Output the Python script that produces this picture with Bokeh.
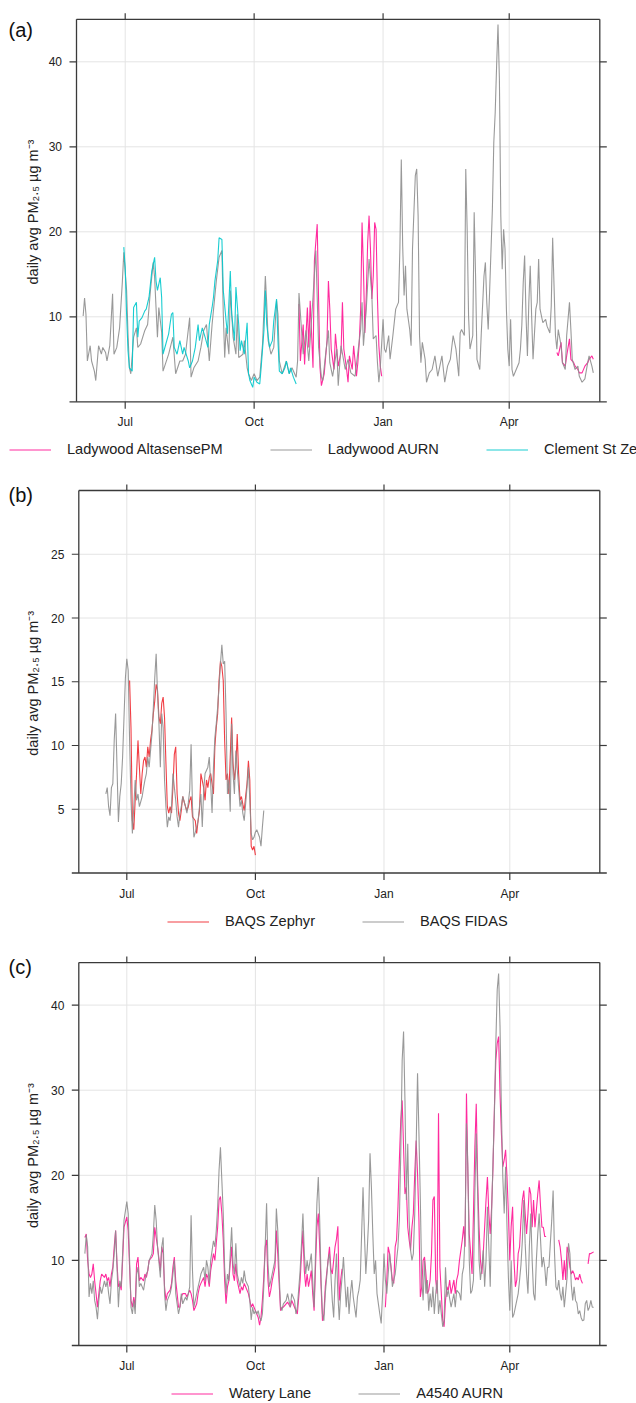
import numpy as np
import pandas as pd
from bokeh.plotting import figure
from bokeh.layouts import column
from bokeh.core.properties import value
from bokeh.models import Range1d, Legend, LegendItem, ColumnDataSource
from bokeh.embed import file_html
from bokeh.resources import INLINE

NAN = float("nan")
START = "2020-06-01"          # day 0 of every series below
X_TICK_DATES = ["2020-07-01", "2020-10-01", "2021-01-01", "2021-04-01"]
X_TICK_LABELS = ["Jul", "Oct", "Jan", "Apr"]
Y_TICKS_A = [10, 20, 30, 40]
Y_TICKS_B = [5, 10, 15, 20, 25]
Y_TICKS_C = [10, 20, 30, 40]
Y_LABEL = "daily avg PM\u2082.\u2085 \u00b5g m\u207b\u00b3"

# ---------------- panel (a) : (day, daily mean) ----------------
A_ALTASENSE = [(154,11.5),(155,4.8),(157,9.1),(158,4.4),(160,11.1),(161,6.4),(162,11.9),(164,4.0),(165,16.6),(167,20.9),
 (168,11.9),(169,4.0),(170,1.9),(172,3.3),(174,7.2),(175,14.2),(176,10.9),(177,6.2),(179,3.8),(180,8.0),
 (182,4.2),(184,5.8),(185,11.7),(186,6.2),(188,3.8),(189,2.3),(190,5.4),(192,3.8),(193,6.6),(195,3.0),
 (196,4.6),(197,7.0),(198,10.9),(199,21.1),(200,15.6),(201,8.1),(202,12.5),(203,18.7),(204,21.9),(205,18.0),
 (206,12.1),(207,14.8),(208,21.1),(209,20.3),(210,12.1),(211,6.6),(212,4.2),(213,3.0),(260,NAN),
 (338,5.8),(339,5.4),(341,7.0),(342,4.6),(344,4.2),(345,5.4),(347,7.4),(348,5.0),(350,4.6),(351,4.2),
 (353,3.8),(354,3.4),(356,3.4),(358,4.2),(360,4.6),(361,5.0),(363,5.4),(364,5.0)]

A_AURN = [(0,10.1),(1,12.2),(2,10.3),(3,4.8),(5,6.6),(6,4.8),(8,3.6),(9,2.5),(11,6.6),(13,5.6),(14,6.4),(16,5.8),
 (17,4.8),(19,6.6),(21,12.7),(22,5.6),(24,6.4),(26,8.7),(28,14.2),(29,17.6),(31,13.1),(32,8.0),(33,4.0),(34,3.3),
 (36,7.6),(38,8.7),(39,6.4),(41,6.8),(44,8.4),(46,9.1),(48,13.1),(50,16.4),(51,14.6),(53,7.6),(54,11.1),(56,8.2),
 (57,3.6),(59,4.6),(61,5.6),(64,7.6),(66,3.3),(69,4.8),(71,4.8),(73,5.6),(76,9.9),(77,2.9),(79,4.0),(82,4.8),
 (84,6.4),(86,8.4),(88,9.1),(90,4.8),(92,9.1),(95,14.2),(97,17.0),(99,17.8),(100,10.3),(101,5.2),(102,8.7),
 (104,5.6),(105,13.1),(107,7.6),(109,5.6),(110,10.3),(111,5.2),(114,5.6),(115,7.2),(117,4.0),(118,3.3),(120,2.5),
 (122,3.3),(124,2.5),(126,2.9),(128,6.8),(130,14.8),(131,11.5),(132,7.2),(134,5.6),(136,6.4),(138,11.9),(139,10.3),
 (140,4.8),(142,3.3),(145,4.8),(147,3.3),(149,4.0),(152,2.9),(153,4.8),(154,12.8),(157,5.6),(159,8.4),(161,4.8),
 (164,12.3),(166,17.8),(167,12.3),(168,6.4),(170,2.9),(171,2.5),(173,5.6),(175,8.4),(176,4.6),(178,3.0),(181,6.2),
 (182,1.9),(184,6.6),(187,3.8),(189,5.0),(191,3.4),(194,3.0),(196,5.8),(198,8.5),(199,11.7),(200,6.6),(202,10.9),
 (204,16.8),(206,12.5),(207,7.4),(209,7.8),(210,4.6),(211,2.3),(212,4.0),(214,9.7),(215,6.2),(216,5.8),(218,7.8),
 (219,5.0),(221,7.8),(223,10.9),(225,11.7),(226,18.0),(227,28.5),(228,18.3),(229,12.5),(230,16.0),(231,10.9),
 (233,8.5),(234,6.6),(235,18.0),(237,26.6),(238,27.4),(239,21.9),(240,7.8),(241,4.6),(242,7.0),(244,5.0),(245,2.3),
 (247,3.4),(249,3.8),(251,5.4),(253,3.0),(256,5.4),(258,2.3),(260,4.2),(262,5.0),(264,7.8),(266,6.2),(268,3.0),
 (269,8.1),(270,8.5),(272,7.8),(273,27.4),(274,20.3),(275,10.1),(276,6.2),(278,7.8),(279,22.3),(280,14.8),(281,5.0),
 (283,3.8),(284,7.8),(286,14.8),(287,16.4),(288,11.7),(289,8.5),(290,12.9),(292,22.7),(293,30.5),(294,34.0),
 (295,39.5),(296,44.4),(297,38.0),(298,21.9),(299,15.6),(300,20.3),(301,18.0),(302,10.9),(303,6.2),(304,4.2),
 (305,9.7),(306,3.8),(307,3.0),(309,3.8),(311,4.6),(312,6.2),(313,9.0),(314,14.0),(315,17.2),(316,10.1),(317,5.4),
 (318,11.7),(319,16.0),(320,10.1),(321,5.0),(323,10.9),(324,11.7),(325,16.8),(326,10.9),(328,9.3),(330,9.7),
 (331,8.9),(333,8.1),(334,11.3),(335,19.3),(337,7.8),(338,6.2),(339,8.5),(341,6.6),(342,4.6),(344,3.8),(345,7.8),
 (347,11.7),(348,8.5),(349,5.0),(351,3.8),(353,4.2),(354,3.0),(356,2.3),(358,2.7),(360,4.6),(361,5.4),(363,4.2),
 (364,3.4)]

A_CLEMENT = [(29,18.2),(30,15.8),(31,10.3),(32,6.0),(33,4.0),(35,3.6),(36,11.1),(38,11.7),(39,7.6),(40,9.5),
 (42,9.9),(44,10.7),(45,10.9),(47,12.3),(49,15.4),(51,17.0),(52,14.2),(53,13.1),(55,14.6),(56,12.3),(57,5.6),
 (59,6.8),(61,8.0),(63,10.3),(64,10.5),(65,6.4),(67,5.6),(69,7.2),(71,5.6),(72,6.4),(75,4.8),(76,4.0),(78,4.8),
 (80,6.4),(82,9.1),(83,7.2),(85,8.7),(87,7.6),(89,6.4),(90,9.1),(92,11.1),(93,12.3),(94,14.2),(96,16.6),(97,19.3),
 (99,19.1),(100,13.1),(102,9.5),(103,8.0),(105,15.4),(106,10.3),(108,7.2),(109,13.5),(111,9.1),(112,6.0),(113,7.2),
 (115,5.6),(117,9.3),(118,3.3),(119,2.5),(121,1.7),(122,2.9),(124,2.3),(126,2.1),(127,4.0),(129,8.4),(130,13.1),
 (131,9.1),(133,6.4),(135,7.2),(136,9.5),(138,12.1),(139,7.2),(140,3.6),(142,3.3),(144,4.0),(145,4.8),(147,3.3),
 (148,4.0),(150,2.9),(152,2.1)]

# ---------------- panel (b) ----------------
B_ZEPHYR = [(32,15.1),(33,11.4),(34,4.1),(35,3.4),(36,5.7),(37,7.8),(38,10.4),(39,8.3),(40,6.2),(41,7.8),(42,8.8),
 (43,9.1),(44,8.3),(45,9.9),(46,9.1),(47,10.4),(48,11.2),(49,12.5),(50,13.5),(51,14.8),(52,14.3),(53,12.2),(54,11.7),
 (55,13.3),(56,13.8),(57,12.2),(58,8.6),(59,5.2),(60,4.7),(61,5.2),(62,4.7),(63,6.7),(64,9.3),(65,9.9),(66,6.2),
 (67,4.7),(68,4.1),(69,4.9),(70,6.0),(72,5.2),(73,4.9),(74,5.2),(75,5.7),(76,6.0),(77,4.4),(79,4.1),(80,3.1),
 (81,4.1),(82,4.9),(83,7.8),(85,6.7),(86,5.7),(87,7.3),(88,6.7),(89,7.5),(90,7.8),(92,6.2),(93,9.9),(94,11.4),
 (95,12.5),(96,15.1),(97,16.6),(98,16.2),(99,15.1),(100,10.4),(101,7.3),(102,7.8),(103,6.2),(104,9.1),(105,12.2),
 (106,8.6),(107,7.3),(108,8.3),(109,10.9),(110,7.8),(111,5.7),(112,6.0),(113,5.4),(114,4.9),(115,6.0),(116,7.0),
 (117,8.8),(118,7.3),(119,2.1),(120,1.8),(121,2.1),(122,1.4)]

B_FIDAS = [(15,6.2),(16,6.7),(17,5.2),(18,4.5),(19,6.7),(20,7.0),(21,10.4),(22,12.5),(23,8.3),(24,4.0),(25,6.0),
 (26,7.0),(27,9.1),(28,12.2),(29,15.3),(30,16.8),(31,15.9),(32,10.4),(33,5.7),(34,3.1),(35,5.2),(36,7.3),(37,5.7),
 (38,6.2),(39,5.2),(41,6.0),(42,6.7),(43,7.3),(44,7.8),(45,9.1),(46,8.3),(48,10.9),(49,13.0),(50,15.3),(51,17.2),
 (52,14.0),(53,11.7),(54,8.3),(55,12.5),(56,11.4),(57,7.3),(58,5.2),(59,3.6),(60,4.4),(61,4.1),(62,5.2),(63,7.8),
 (65,5.7),(66,4.4),(67,3.6),(68,4.7),(69,5.2),(70,6.0),(72,5.2),(73,4.7),(74,5.5),(75,6.5),(76,10.1),(77,5.2),
 (78,2.8),(80,3.6),(81,4.1),(82,5.2),(83,6.2),(84,3.6),(85,6.5),(86,7.8),(88,8.3),(89,9.1),(90,7.0),(91,4.7),
 (92,8.3),(93,10.6),(94,11.7),(95,13.0),(96,14.6),(97,16.4),(98,17.9),(99,16.4),(100,16.6),(101,12.5),(102,6.2),
 (103,7.3),(104,4.8),(105,11.7),(106,7.8),(107,6.2),(108,9.6),(110,6.7),(111,5.2),(112,5.7),(113,4.7),(114,4.1),
 (116,6.7),(117,8.3),(118,5.7),(119,3.1),(120,2.6),(121,2.8),(122,3.2),(123,3.4),(124,3.1),(125,2.8),(126,2.1),
 (127,3.6),(128,4.9)]

# ---------------- panel (c) ----------------
C_WATERY = [(0,12.7),(1,13.1),(2,10.0),(3,8.4),(4,8.0),(5,8.4),(6,9.6),(7,7.6),(8,6.1),(9,4.5),(10,6.1),(11,7.6),
 (12,8.4),(14,8.0),(15,8.4),(16,7.6),(17,8.0),(18,6.9),(19,8.4),(20,9.2),(21,11.6),(22,13.5),(23,9.6),(24,6.9),
 (25,7.3),(26,6.5),(27,10.0),(28,13.9),(30,15.1),(31,13.5),(32,9.2),(33,5.3),(34,4.5),(35,5.7),(36,4.5),(37,9.6),
 (38,10.4),(39,7.6),(40,8.0),(42,7.6),(43,8.4),(44,8.0),(45,8.8),(46,10.0),(48,10.4),(49,10.8),(50,13.9),(51,12.7),
 (52,11.6),(54,8.8),(55,11.6),(56,10.8),(57,6.9),(58,5.3),(59,6.1),(61,6.5),(62,7.3),(63,9.2),(64,10.4),(65,7.6),
 (66,6.1),(67,4.5),(68,4.5),(69,5.7),(70,6.1),(72,6.1),(73,5.7),(74,6.1),(75,6.5),(76,6.1),(77,5.3),(78,4.1),
 (79,4.5),(80,4.9),(81,6.1),(82,6.9),(83,7.3),(85,8.0),(86,6.9),(87,8.4),(88,8.0),(89,6.9),(90,8.8),(92,10.8),
 (93,10.0),(94,12.0),(95,13.9),(96,17.1),(97,17.5),(98,15.5),(99,12.4),(100,7.6),(101,4.9),(102,6.9),(103,7.6),
 (105,11.6),(106,8.4),(107,7.6),(108,9.6),(109,7.6),(111,6.1),(112,6.9),(113,6.5),(114,7.3),(115,6.9),(117,6.1),
 (118,5.3),(119,4.5),(120,4.9),(121,4.5),(122,4.1),(123,3.7),(124,3.3),(125,2.4),(126,3.3),(127,5.3),(128,8.0),
 (129,11.6),(130,12.4),(131,7.6),(132,5.7),(133,6.5),(134,7.6),(136,9.2),(137,13.5),(138,10.8),(139,7.3),(140,4.1),
 (141,4.5),(142,4.5),(144,4.9),(145,5.1),(147,4.5),(148,5.3),(150,4.5),(151,4.1),(152,3.7),(154,7.6),(155,10.8),
 (156,13.5),(157,8.8),(158,6.9),(159,8.4),(160,6.9),(162,8.8),(163,6.1),(164,4.1),(165,9.2),(166,13.9),(167,15.5),
 (168,11.6),(169,6.9),(170,2.9),(171,3.7),(172,6.9),(174,10.0),(175,11.6),(176,9.0),(177,8.4),(178,10.0),(179,11.6),
 (180,12.5),(181,14.0),(182,5.3),(183,7.7),(184,9.0),(200,NAN),(215,4.5),(216,7.7),(217,11.6),(218,10.8),(220,7.7),
 (221,7.3),(222,11.6),(223,12.4),(224,16.3),(225,21.8),(226,26.5),(227,28.8),(228,23.3),(229,17.8),(230,18.6),
 (231,13.9),(232,12.4),(233,11.2),(234,13.9),(235,15.5),(236,20.2),(237,24.1),(238,20.2),(239,14.7),(240,5.7),
 (241,6.9),(242,10.0),(243,10.4),(244,8.4),(245,6.1),(246,6.5),(247,7.7),(248,10.8),(249,17.1),(250,17.5),(251,7.7),
 (252,6.1),(253,27.3),(254,9.2),(255,6.1),(256,3.0),(257,2.2),(258,5.3),(259,6.9),(260,6.5),(261,7.7),(262,6.1),
 (263,6.9),(264,7.7),(265,6.1),(266,7.7),(267,8.4),(268,10.0),(270,12.4),(271,14.0),(272,11.6),(273,29.6),
 (274,20.2),(275,13.1),(276,10.8),(277,8.4),(278,15.5),(279,23.3),(280,28.4),(281,19.4),(282,13.9),(283,10.0),
 (284,8.4),(285,10.8),(286,13.9),(287,17.1),(288,19.8),(289,15.5),(290,13.1),(291,16.3),(292,21.0),(293,28.0),
 (294,33.5),(295,35.5),(296,36.3),(297,29.6),(298,24.9),(299,21.0),(300,21.8),(301,23.0),(302,19.8),(303,15.5),
 (304,10.0),(305,14.0),(306,16.3),(307,10.0),(308,6.9),(309,7.7),(310,10.8),(311,11.6),(312,14.7),(313,17.1),
 (314,18.2),(315,15.5),(316,13.1),(317,15.5),(318,18.6),(319,17.8),(320,13.9),(321,17.1),(322,13.9),(323,15.9),
 (324,17.8),(325,19.4),(326,16.3),(327,13.9),(328,13.9),(329,12.8),(330,12.8),(334,NAN),(339,12.4),(340,11.6),
 (341,10.0),(342,7.7),(343,10.0),(344,7.7),(345,11.6),(346,10.8),(347,9.2),(348,8.4),(349,8.8),(350,8.4),(351,7.7),
 (352,8.0),(353,7.7),(354,8.4),(355,7.7),(356,7.3),(358,NAN),(360,9.6),(361,10.8),(362,10.8),(364,11.0)]

C_A4540 = [(0,10.8),(1,13.0),(2,11.6),(3,5.7),(4,7.3),(5,6.1),(6,7.6),(7,5.3),(8,4.5),(9,3.1),(10,5.3),(11,6.9),
 (12,6.1),(14,7.6),(15,6.9),(16,7.6),(17,6.1),(18,4.9),(19,7.6),(20,8.8),(21,10.8),(22,13.5),(23,9.2),(24,4.5),
 (25,7.6),(26,6.9),(27,10.8),(28,14.7),(30,16.9),(31,15.5),(32,10.0),(33,4.5),(34,3.7),(35,5.3),(36,3.7),(37,8.4),
 (38,9.2),(39,6.9),(40,7.3),(42,6.5),(43,7.6),(44,8.4),(45,8.8),(46,10.0),(48,10.8),(49,13.1),(50,16.5),(51,14.7),
 (52,11.6),(54,8.0),(55,11.6),(56,12.7),(57,6.1),(58,4.1),(59,5.3),(61,6.1),(62,6.9),(63,8.4),(64,10.0),(65,6.1),
 (66,4.9),(67,3.7),(68,4.5),(69,6.1),(70,4.9),(72,5.7),(73,5.3),(74,6.1),(75,6.9),(76,15.3),(77,8.8),(78,4.5),
 (79,5.3),(80,6.1),(81,6.9),(82,7.6),(83,8.4),(85,9.2),(86,7.6),(87,10.0),(88,9.2),(89,7.3),(90,10.0),(92,12.3),
 (93,11.6),(94,13.5),(95,16.3),(96,20.6),(97,23.3),(98,19.4),(99,15.5),(100,9.2),(101,6.1),(102,8.4),(103,7.6),
 (105,13.9),(106,9.6),(107,8.4),(108,12.0),(109,8.4),(111,6.9),(112,8.0),(113,7.3),(114,8.8),(115,7.6),(117,6.9),
 (118,5.3),(119,3.0),(120,4.5),(121,3.7),(122,4.1),(123,3.7),(124,4.1),(125,3.3),(126,2.9),(127,3.7),(128,6.9),
 (129,11.6),(130,16.7),(131,9.6),(132,6.9),(133,7.6),(134,8.4),(136,10.0),(137,16.1),(138,13.5),(139,8.4),(140,4.5),
 (141,4.1),(142,4.9),(144,5.3),(145,6.1),(147,4.5),(148,6.1),(150,5.3),(151,3.7),(152,4.5),(154,8.8),(155,12.0),
 (156,15.5),(157,10.8),(158,8.4),(159,10.0),(160,8.8),(162,10.8),(163,7.6),(164,4.5),(165,10.8),(166,16.7),
 (167,19.8),(168,14.7),(169,7.6),(170,3.7),(171,2.9),(172,6.1),(174,10.0),(175,10.8),(176,8.4),(177,5.3),(178,3.3),
 (179,7.7),(180,10.8),(181,6.0),(182,3.0),(183,6.1),(184,8.0),(185,10.4),(187,4.5),(188,6.9),(189,3.7),(190,6.1),
 (191,7.7),(192,5.7),(194,3.3),(195,5.7),(196,6.5),(197,7.7),(198,13.1),(199,18.6),(200,13.1),(201,8.4),(202,11.2),
 (203,14.7),(204,22.6),(205,18.6),(206,13.1),(207,8.4),(208,10.0),(209,6.1),(210,4.9),(211,3.7),(212,2.6),(213,6.1),
 (214,10.8),(215,7.7),(216,6.1),(217,8.4),(218,10.8),(219,9.2),(220,6.9),(221,7.7),(222,8.4),(223,10.0),(224,11.6),
 (225,14.8),(226,22.6),(227,33.5),(228,36.9),(229,28.8),(230,17.1),(231,23.7),(232,14.7),(233,11.2),(234,10.0),
 (235,10.8),(236,15.5),(237,23.3),(238,32.0),(239,24.9),(240,17.1),(241,7.7),(242,5.3),(243,10.0),(244,6.1),
 (245,7.7),(246,4.1),(247,6.1),(248,4.5),(249,6.9),(250,3.7),(251,6.1),(252,7.7),(253,3.7),(254,5.3),(256,2.2),
 (257,2.9),(258,9.2),(259,5.7),(260,6.5),(262,4.5),(263,5.3),(264,6.1),(265,4.5),(266,6.5),(268,6.1),(269,5.3),
 (270,8.4),(271,9.2),(272,13.1),(273,26.1),(274,21.0),(275,10.0),(276,6.1),(277,6.5),(278,7.7),(279,17.8),(280,24.9),
 (281,17.8),(282,10.0),(283,7.7),(284,9.2),(285,11.2),(286,6.9),(287,10.0),(288,16.3),(289,11.6),(290,6.9),
 (291,15.5),(292,21.8),(293,27.3),(294,35.5),(295,41.8),(296,43.7),(297,37.5),(298,27.7),(299,19.8),(300,15.5),
 (301,21.0),(302,13.9),(303,8.0),(304,4.1),(305,10.0),(306,3.3),(307,3.7),(308,4.5),(309,5.3),(310,6.1),(311,7.7),
 (312,9.5),(313,12.4),(314,17.1),(315,12.0),(316,8.4),(317,6.1),(318,11.6),(319,15.5),(320,10.0),(321,6.1),
 (322,5.3),(323,10.0),(324,13.1),(325,15.5),(326,12.4),(327,9.2),(328,10.4),(329,9.2),(330,7.0),(331,9.2),(332,9.2),
 (333,12.0),(334,14.7),(335,18.2),(336,10.8),(337,6.9),(338,6.5),(339,7.7),(340,6.1),(341,5.3),(342,6.9),(343,4.5),
 (345,8.0),(346,12.0),(347,10.8),(348,7.1),(349,5.3),(350,6.9),(351,5.3),(352,5.0),(353,3.7),(354,4.1),(355,3.3),
 (356,2.9),(357,3.0),(358,4.9),(359,5.3),(360,4.1),(361,4.5),(362,5.3),(363,4.5),(364,4.5)]

# ---------------- styling ----------------
FONT = "Liberation Sans"
INK = "#222222"
FRAME = "#3a3a3a"
GRID = "#e4e4e4"
PINK = "#ff1493"
GREY = "#8e8e8e"
CYAN = "#00c8cc"
RED = "#ee1c25"
DAY_MS = 86400000.0
EPOCH = pd.Timestamp("1970-01-01")
W = 636


def to_ms(ts):
    return (pd.Timestamp(ts) - EPOCH).total_seconds() * 1000.0


def source(pairs):
    days = np.array([d for d, _ in pairs], dtype=float)
    vals = np.array([v for _, v in pairs], dtype=float)
    x = (pd.Timestamp(START) + pd.to_timedelta(days, unit="D")).values
    return ColumnDataSource(dict(x=x, y=vals))


class Geo:
    """Pixel geometry of one panel (canvas = whole figure, frame = whole canvas)."""
    def __init__(self, H, jul_px, px_per_day, left_px, right_px, bottom_py, px_per_unit, y_top):
        self.H, self.jul_px, self.ppd = H, jul_px, px_per_day
        self.left_px, self.right_px = left_px, right_px
        self.bottom_py, self.ppu, self.y_top = bottom_py, px_per_unit, y_top
        self.jul = to_ms(X_TICK_DATES[0])

    def x(self, px):
        return self.jul + (px - self.jul_px) / self.ppd * DAY_MS

    def y(self, py):
        return (self.bottom_py - py) / self.ppu

    def dx(self, npx):
        return npx / self.ppd * DAY_MS

    def dy(self, npx):
        return npx / self.ppu


def panel(g, y_ticks, series, tag, tag_baseline_py, legend_x, legend_bottom_from_canvas_bottom):
    p = figure(width=W, height=g.H, x_range=Range1d(g.x(0), g.x(W)), y_range=Range1d(g.y(g.H), g.y(0)),
               x_axis_location=None, y_axis_location=None, toolbar_location=None,
               output_backend="svg", min_border=0, min_border_left=0, min_border_right=0,
               min_border_top=0, min_border_bottom=0)
    p.title.visible = False
    p.outline_line_color = None
    p.background_fill_color = "white"
    p.border_fill_color = "white"
    p.xgrid.visible = False
    p.ygrid.visible = False

    xl, xr = g.x(g.left_px), g.x(g.right_px)
    top = g.y_top
    xt = [to_ms(d) for d in X_TICK_DATES]

    # grid
    p.segment(x0=xt, y0=[0] * len(xt), x1=xt, y1=[top] * len(xt), line_color=GRID, line_width=1)
    p.segment(x0=[xl] * len(y_ticks), y0=y_ticks, x1=[xr] * len(y_ticks), y1=y_ticks,
              line_color=GRID, line_width=1)

    # data
    items = []
    for pairs, color, label, alpha in series:
        r = p.line("x", "y", source=source(pairs), line_color=color, line_width=1.1, line_alpha=alpha)
        items.append(LegendItem(label=label, renderers=[r]))

    # frame (bottom rule runs 7px past both sides)
    p.segment(x0=[xl, xr, xl, xl - g.dx(7)], y0=[0, 0, top, 0],
              x1=[xl, xr, xr, xr + g.dx(7)], y1=[top, top, top, 0],
              line_color=FRAME, line_width=1.3)
    # ticks
    p.segment(x0=xt, y0=[0] * len(xt), x1=xt, y1=[-g.dy(7)] * len(xt), line_color=FRAME, line_width=1.2)
    p.segment(x0=xt, y0=[top] * len(xt), x1=xt, y1=[top + g.dy(6)] * len(xt), line_color=FRAME, line_width=1.2)
    p.segment(x0=[xl] * len(y_ticks), y0=y_ticks, x1=[xl - g.dx(7)] * len(y_ticks), y1=y_ticks,
              line_color=FRAME, line_width=1.2)
    p.segment(x0=[xr] * len(y_ticks), y0=y_ticks, x1=[xr + g.dx(7)] * len(y_ticks), y1=y_ticks,
              line_color=FRAME, line_width=1.2)

    # tick labels
    p.text(x=xt, y=[-g.dy(20.5)] * len(xt), text=X_TICK_LABELS, text_font=value(FONT),
           text_font_size="12px", text_color=INK, text_align="center", text_baseline="middle")
    p.text(x=[xl - g.dx(14.5)] * len(y_ticks), y=y_ticks, text=[str(t) for t in y_ticks],
           text_font=value(FONT), text_font_size="12px", text_color=INK,
           text_align="right", text_baseline="middle")

    # axis title (rotated) and panel tag
    mid_py = (g.bottom_py + (g.bottom_py - g.y_top * g.ppu)) / 2 + 1.5
    p.text(x=[g.x(32.5)], y=[g.y(mid_py)], text=[Y_LABEL], angle=np.pi / 2,
           text_font=value(FONT), text_font_size="14.5px", text_color=INK,
           text_align="center", text_baseline="alphabetic")
    p.text(x=[g.x(8)], y=[g.y(tag_baseline_py)], text=[tag], text_font=value(FONT),
           text_font_size="20px", text_color="#111111", text_align="left", text_baseline="alphabetic")

    leg = Legend(items=items, location=(legend_x, legend_bottom_from_canvas_bottom),
                 orientation="horizontal", glyph_width=42, glyph_height=17, label_height=17,
                 label_standoff=16, spacing=47, padding=0, margin=0, border_line_color=None,
                 background_fill_alpha=0, label_text_font=FONT,
                 label_text_font_size="14.6px", label_text_color=INK)
    p.add_layout(leg)
    return p


SER_A = [(A_ALTASENSE, PINK, "Ladywood AltasensePM", 0.9),
         (A_AURN, GREY, "Ladywood AURN", 0.9),
         (A_CLEMENT, CYAN, "Clement St Zephyr", 0.9)]
SER_B = [(B_ZEPHYR, RED, "BAQS Zephyr", 0.85),
         (B_FIDAS, GREY, "BAQS FIDAS", 0.9)]
SER_C = [(C_WATERY, PINK, "Watery Lane", 0.9),
         (C_A4540, GREY, "A4540 AURN", 0.9)]

GA = Geo(465, 124.7, 1.4015, 76.0, 599.3, 401.3, 8.5, 45.0)
GB = Geo(470, 126.3, 1.3978, 78.3, 599.3, 407.5, 12.75, 30.0)
GC = Geo(468, 126.3, 1.3978, 78.3, 599.3, 410.0, 8.51, 45.0)

pa = panel(GA, Y_TICKS_A, SER_A, "(a)", 29.1, 9, 7.5)
pb = panel(GB, Y_TICKS_B, SER_B, "(b)", 29.1, 167, 5.5)
pc = panel(GC, Y_TICKS_C, SER_C, "(c)", 31.5, 171, 1.2)

layout = column(pa, pb, pc, spacing=0)
open("out.html", "w").write(file_html(layout, INLINE))
